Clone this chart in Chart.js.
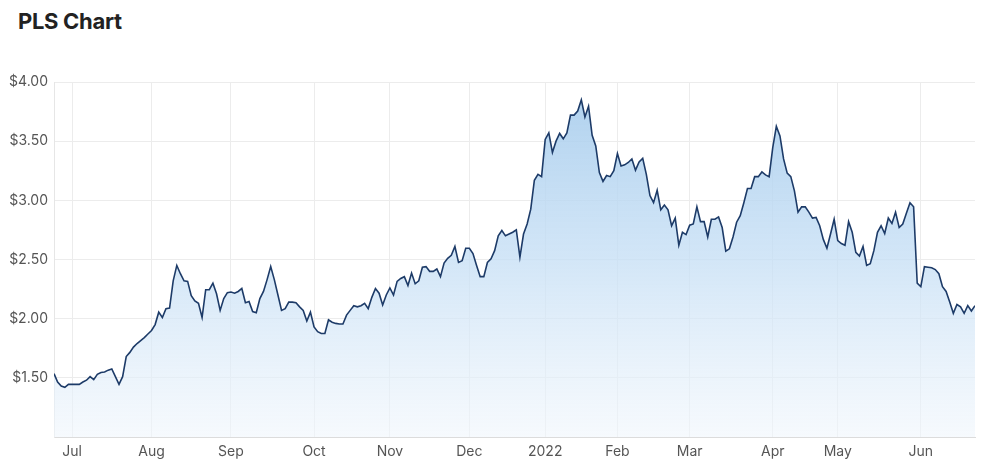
<!DOCTYPE html>
<html>
<head>
<meta charset="utf-8">
<script src="https://cdn.jsdelivr.net/npm/chart.js@4"></script>
<style>
  html, body { margin: 0; padding: 0; background: #fff; }
  #wrap { position: relative; width: 1000px; height: 473px; }
  #title {
    position: absolute; left: 18px; top: 8px;
    font-family: Inter, "Noto Sans", sans-serif; font-weight: 700;
    font-size: 22px; color: #222; letter-spacing: -0.3px;
  }
  canvas { position: absolute; left: 0; top: 0; }
</style>
</head>
<body>
<div id="wrap">
  <div id="title">PLS Chart</div>
  <canvas id="priceChart" width="1000" height="473"></canvas>
</div>
<script>
// daily close, one value per trading day (late Jun 2021 -> late Jun 2022)
const prices = [
  1.535, 1.465, 1.43, 1.42, 1.445, 1.445, 1.445, 1.445, 1.465, 1.48,
  1.51, 1.485, 1.53, 1.545, 1.55, 1.565, 1.575, 1.51, 1.445, 1.51,
  1.68, 1.715, 1.76, 1.79, 1.815, 1.84, 1.87, 1.90, 1.95, 2.055,
  2.01, 2.085, 2.09, 2.32, 2.45, 2.38, 2.32, 2.315, 2.195, 2.15,
  2.13, 2.01, 2.245, 2.245, 2.30, 2.21, 2.07, 2.17, 2.22, 2.225,
  2.215, 2.23, 2.255, 2.135, 2.145, 2.06, 2.05, 2.17, 2.23, 2.33,
  2.44, 2.33, 2.20, 2.07, 2.085, 2.14, 2.14, 2.135, 2.10, 2.07,
  1.98, 2.055, 1.93, 1.89, 1.875, 1.875, 1.99, 1.97, 1.96, 1.955,
  1.955, 2.03, 2.07, 2.11, 2.10, 2.11, 2.13, 2.085, 2.18, 2.255,
  2.215, 2.115, 2.20, 2.26, 2.20, 2.315, 2.34, 2.355, 2.28, 2.385,
  2.295, 2.32, 2.435, 2.44, 2.40, 2.40, 2.42, 2.355, 2.47, 2.51,
  2.535, 2.61, 2.475, 2.49, 2.595, 2.595, 2.55, 2.45, 2.355, 2.355,
  2.475, 2.505, 2.575, 2.70, 2.745, 2.70, 2.715, 2.73, 2.75, 2.52,
  2.715, 2.80, 2.925, 3.17, 3.22, 3.20, 3.515, 3.57, 3.405, 3.50,
  3.565, 3.52, 3.57, 3.72, 3.72, 3.755, 3.85, 3.705, 3.795, 3.55,
  3.46, 3.235, 3.16, 3.21, 3.20, 3.25, 3.395, 3.29, 3.30, 3.32,
  3.35, 3.255, 3.325, 3.355, 3.22, 3.04, 2.98, 3.085, 2.92, 2.96,
  2.92, 2.785, 2.85, 2.62, 2.73, 2.71, 2.79, 2.80, 2.945, 2.82,
  2.82, 2.69, 2.84, 2.84, 2.86, 2.77, 2.57, 2.59, 2.69, 2.815,
  2.87, 2.98, 3.10, 3.10, 3.20, 3.20, 3.24, 3.215, 3.20, 3.445,
  3.625, 3.545, 3.35, 3.23, 3.20, 3.08, 2.90, 2.945, 2.945, 2.90,
  2.85, 2.855, 2.785, 2.67, 2.595, 2.715, 2.84, 2.66, 2.635, 2.62,
  2.82, 2.73, 2.56, 2.53, 2.61, 2.45, 2.465, 2.575, 2.73, 2.785,
  2.72, 2.85, 2.805, 2.90, 2.77, 2.80, 2.89, 2.98, 2.945, 2.30,
  2.27, 2.44, 2.435, 2.43, 2.415, 2.38, 2.27, 2.23, 2.14, 2.045,
  2.12, 2.10, 2.045, 2.11, 2.065, 2.11
];

// trading-day index where each month label sits
const monthTickIdx = [5, 27, 49, 72, 93, 115, 136, 156, 176, 199, 217, 240];
const monthLabels = ["Jul", "Aug", "Sep", "Oct", "Nov", "Dec", "2022", "Feb", "Mar", "Apr", "May", "Jun"];

const yTicks = [1.0, 1.5, 2.0, 2.5, 3.0, 3.5, 4.0];

const points = prices.map((p, i) => ({ x: i, y: p }));
const font = { family: "Inter, 'Noto Sans', sans-serif", size: 14 };

const ctx = document.getElementById("priceChart").getContext("2d");

new Chart(ctx, {
  type: "line",
  data: {
    datasets: [{
      data: points,
      borderColor: "#1d3b68",
      borderWidth: 1.6,
      pointRadius: 0,
      tension: 0,
      fill: "start",
      backgroundColor: (c) => {
        const area = c.chart.chartArea;
        if (!area) return "rgba(180,212,238,0.6)";
        const g = c.chart.ctx.createLinearGradient(0, area.top, 0, area.bottom);
        g.addColorStop(0, "rgba(165,203,236,0.9)");
        g.addColorStop(0.5, "rgba(198,223,245,0.78)");
        g.addColorStop(1, "rgba(240,246,252,0.6)");
        return g;
      }
    }]
  },
  options: {
    responsive: false,
    animation: false,
    layout: { padding: { top: 82, right: 25, left: 0, bottom: 0 } },
    plugins: {
      legend: { display: false },
      tooltip: { enabled: false }
    },
    scales: {
      x: {
        type: "linear",
        min: 0,
        max: prices.length - 1,
        afterBuildTicks: (axis) => {
          axis.ticks = monthTickIdx.map(v => ({ value: v }));
        },
        afterFit: (scale) => { scale.height = 36; },
        ticks: {
          autoSkip: false,
          maxRotation: 0,
          padding: 6,
          color: "#555",
          font: font,
          callback: (v) => {
            const k = monthTickIdx.indexOf(v);
            return k >= 0 ? monthLabels[k] : "";
          }
        },
        grid: { color: "#ececec", drawTicks: false },
        border: { color: "#dcdcdc" }
      },
      y: {
        min: 1,
        max: 4,
        afterBuildTicks: (axis) => {
          axis.ticks = yTicks.map(v => ({ value: v }));
        },
        afterFit: (scale) => { scale.width = 54; },
        ticks: {
          padding: 6,
          color: "#555",
          font: font,
          callback: (v) => v === 1 ? "" : "$" + v.toFixed(2)
        },
        grid: { color: "#ececec", drawTicks: false },
        border: { color: "#e6e6e6" }
      }
    }
  }
});
</script>
</body>
</html>
